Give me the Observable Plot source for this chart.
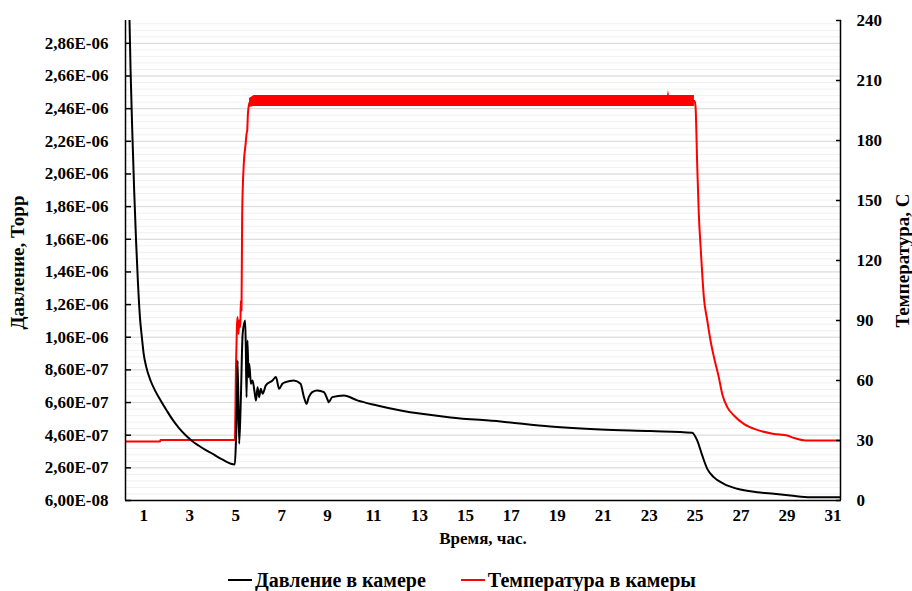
<!DOCTYPE html>
<html><head><meta charset="utf-8">
<script src="https://cdn.jsdelivr.net/npm/d3@7"></script>
<script src="https://cdn.jsdelivr.net/npm/@observablehq/plot@0.6"></script>
<style>
body{margin:0;background:#fff;font-family:"Liberation Serif","Times New Roman",serif;}
#wrap{position:relative;width:912px;height:591px;overflow:hidden;}
#legend{position:absolute;left:228px;top:568px;height:24px;display:flex;align-items:center;font-size:20px;font-weight:bold;color:#000;white-space:nowrap;}
#legend .sw{display:inline-block;width:24px;height:2px;margin-right:3px;}
#legend .it{display:flex;align-items:center;margin-right:35px;}
</style></head><body>
<div id="wrap"><div id="chart"></div><div id="legend"></div></div>
<script>
// ---- data ----
const xTicks = [1,3,5,7,9,11,13,15,17,19,21,23,25,27,29,31];
const leftTickLabels = ["6,00E-08","2,60E-07","4,60E-07","6,60E-07","8,60E-07","1,06E-06","1,26E-06","1,46E-06","1,66E-06","1,86E-06","2,06E-06","2,26E-06","2,46E-06","2,66E-06","2,86E-06"];
const rightTicks = [0,30,60,90,120,150,180,210,240];

const pressTime = [0.36,0.42,0.5,0.58,0.66,0.74,0.83,0.92,0.99,1.1,1.29,1.5,1.73,2.0,2.25,2.52,2.82,3.1,3.38,3.7,4.0,4.43,4.96,5.0,5.05,5.08,5.15,5.22,5.30,5.41,5.44,5.47,5.51,5.56,5.59,5.66,5.73,5.81,5.88,5.95,6.02,6.09,6.17,6.31,6.60,6.75,6.89,7.03,7.17,7.53,7.82,7.97,8.08,8.18,8.33,8.55,8.84,8.98,9.05,9.2,9.71,10.29,11.16,12.18,14.35,16.53,18.7,20.88,23.06,24.87,25.09,25.31,25.53,25.81,26.25,26.83,27.7,28.43,29.15,30.02,31.33];
const pressVal = [3.1e-6,2.7e-6,2.3e-6,1.95e-6,1.65e-6,1.4e-6,1.18e-6,1.05e-6,9.6e-7,8.8e-7,7.95e-7,7.3e-7,6.73e-7,6.1e-7,5.55e-7,5.05e-7,4.6e-7,4.25e-7,3.97e-7,3.68e-7,3.45e-7,3.1e-7,2.81e-7,3.87e-7,6.32e-7,9.18e-7,4.07e-7,6.73e-7,1.08e-6,1.163e-6,9.79e-7,6.93e-7,1.04e-6,8.15e-7,8.98e-7,7.75e-7,7.95e-7,7.34e-7,6.73e-7,7.54e-7,6.93e-7,7.44e-7,7.14e-7,7.65e-7,7.95e-7,8.16e-7,7.44e-7,7.75e-7,7.85e-7,7.95e-7,7.75e-7,6.93e-7,6.52e-7,6.93e-7,7.24e-7,7.34e-7,7.24e-7,6.83e-7,6.62e-7,6.93e-7,7.03e-7,6.73e-7,6.42e-7,6.11e-7,5.69e-7,5.44e-7,5.13e-7,4.95e-7,4.85e-7,4.75e-7,4.28e-7,3.36e-7,2.54e-7,2.03e-7,1.62e-7,1.32e-7,1.11e-7,1.01e-7,9.1e-8,8.0e-8,8.0e-8];

const tempTime = [0.2,1.7,1.72,4.96,5.01,5.05,5.08,5.12,5.15,5.2,5.22,5.25,5.28,5.35,5.43,5.47,5.5,5.53,5.6,5.8,24.98,25.02,25.09,25.16,25.24,25.31,25.38,25.53,25.67,25.82,26.03,26.18,26.4,26.69,27.12,27.7,28.43,29.01,29.3,29.81,31.33];
const tempVal = [29.5,29.5,30.3,30.3,66.7,86.7,91.7,83.3,90,86.7,100,95,143.5,168.3,178.3,183.3,185,193.3,199,199.7,199.7,196.7,168.3,143.3,126.7,113.3,101.7,90,80,71.7,61.7,53.3,46.7,42.5,38.3,35.3,33.3,32.5,31.3,30,30];

// plateau noise envelope of temperature
const bandTime = [5.6,5.8,23.8,23.84,23.88,24.97];
const bandLow  = [196.5,197,197,197,197,197];
const bandHigh = [201,202.5,202.5,205,202.5,202.5];

const seriesNames = ["Давление в камере","Температура в камеры"];
const seriesColors = ["#000000","#ff0000"];

// ---- scales ----
const pMin = 6e-8, pMax = 3e-6, tMax = 240;
const toP = T => pMin + T / tMax * (pMax - pMin);
const fromP = p => (p - pMin) / (pMax - pMin) * tMax;
const leftTicks = leftTickLabels.map(s => +s.replace(",", "."));
const labelMap = new Map(leftTicks.map((v, i) => [v, leftTickLabels[i]]));
const minorTicks = d3.range(0, 74).map(i => pMin + i * 4e-8);

const press = pressTime.map((t, i) => ({t, p: pressVal[i]}));
const temp = tempTime.map((t, i) => ({t, p: toP(tempVal[i])}));
const band = bandTime.map((t, i) => ({t, lo: toP(bandLow[i]), hi: toP(bandHigh[i])}));

const chart = Plot.plot({
  width: 912, height: 562,
  marginLeft: 125, marginRight: 72, marginTop: 20, marginBottom: 62,
  style: {fontFamily: "'Liberation Serif', 'Times New Roman', serif", fontSize: "17px", fontWeight: "bold", color: "#000", background: "#fff"},
  x: {domain: [0.2, 31.33]},
  y: {domain: [pMin, pMax]},
  marks: [
    Plot.ruleY(minorTicks, {stroke: "#f0f0f0", strokeWidth: 1}),
    Plot.ruleY(leftTicks, {stroke: "#d9d9d9", strokeWidth: 1}),
    Plot.areaY(band, {x: "t", y1: "lo", y2: "hi", fill: seriesColors[1], clip: true}),
    Plot.line(temp, {x: "t", y: "p", stroke: seriesColors[1], strokeWidth: 2, curve: "monotone-x", clip: true}),
    Plot.line(press, {x: "t", y: "p", stroke: seriesColors[0], strokeWidth: 2, curve: "monotone-x", clip: true}),
    Plot.ruleX([0.2], {stroke: "#000", strokeWidth: 1.5}),
    Plot.ruleX([31.33], {stroke: "#000", strokeWidth: 1.5}),
    Plot.ruleY([pMin], {stroke: "#000", strokeWidth: 1.5}),
    Plot.axisX(xTicks, {tickSize: 0, tickPadding: 8, tickFormat: d => String(d), label: null, fontSize: 17, fontWeight: "bold"}),
    Plot.axisY(leftTicks, {anchor: "left", tickSize: -6, tickPadding: 23, strokeWidth: 1.5, tickFormat: d => labelMap.get(d), label: null, fontSize: 17, fontWeight: "bold"}),
    Plot.axisY(rightTicks.map(toP), {anchor: "right", tickSize: -5, tickPadding: 21, strokeWidth: 1.5, tickFormat: d => String(Math.round(fromP(d))), label: null, fontSize: 17, fontWeight: "bold"}),
    Plot.text(["Время, час."], {frameAnchor: "bottom", dy: 43, fontSize: 17, fontWeight: "bold", fill: "#000"}),
    Plot.text(["Давление, Торр"], {frameAnchor: "left", textAnchor: "middle", dx: -108, dy: 2, rotate: -90, fontSize: 19, fontWeight: "bold", fill: "#000"}),
    Plot.text(["Температура, С"], {frameAnchor: "right", textAnchor: "middle", dx: 62, dy: 0, rotate: -90, fontSize: 19, fontWeight: "bold", fill: "#000"})
  ]
});
document.getElementById("chart").appendChild(chart);

const leg = document.getElementById("legend");
seriesNames.forEach((n, i) => {
  const it = document.createElement("span");
  it.className = "it";
  const sw = document.createElement("span");
  sw.className = "sw";
  sw.style.background = seriesColors[i];
  it.appendChild(sw);
  it.appendChild(document.createTextNode(n));
  leg.appendChild(it);
});
</script>
</body></html>
